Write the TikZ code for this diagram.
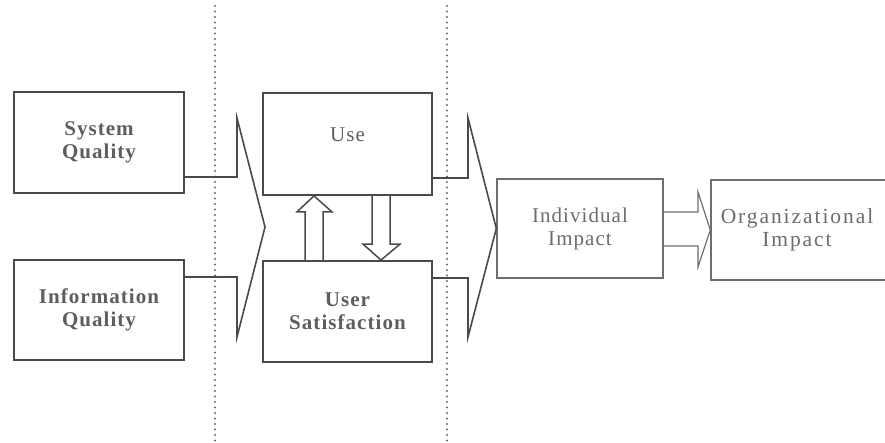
\documentclass[tikz,border=0pt]{standalone}
\usepackage{fontspec}
\setmainfont{Liberation Serif}
\newfontfamily\boxfont[LetterSpace=5]{Liberation Serif}
\newfontfamily\wideboxfont[LetterSpace=9]{Liberation Serif}
\usetikzlibrary{calc}

\definecolor{edgedark}{HTML}{4A4A4A}
\definecolor{edgelight}{HTML}{6E6E6E}
\definecolor{labeldark}{HTML}{5E5E5E}
\definecolor{labellight}{HTML}{6C6C6C}
\definecolor{dotgray}{HTML}{6A6A6A}

\tikzset{
  block/.style={draw=edgedark, line width=1.8pt, rectangle, inner sep=0pt,
    align=center, text=labeldark,
    font=\boxfont\bfseries\fontsize{21}{23}\selectfont},
  lightblock/.style={block, draw=edgelight, line width=1.4pt, text=labellight,
    font=\boxfont\fontsize{21}{23}\selectfont},
  plaintext/.style={inner sep=0pt, text=labeldark,
    font=\boxfont\fontsize{21}{23}\selectfont},
  conn/.style={draw=edgedark, line width=1.6pt, line join=miter},
  lightconn/.style={draw=edgelight, line width=1.2pt, line join=miter},
  hollow/.style={draw=edgedark, line width=1.5pt, line join=miter},
  divider/.style={draw=dotgray, line width=2.2pt, line cap=round,
    dash pattern=on 0pt off 5.5pt}
}

\begin{document}
\begin{tikzpicture}[x=1pt,y=-1pt]
  % page frame
  \path[clip] (0,0) rectangle (885,443);
  \fill[white] (0,0) rectangle (885,443);

  % stage dividers
  \draw[divider] (215,6) -- (215,443);
  \draw[divider] (447,6) -- (447,443);

  % boxes
  \node[block, minimum width=170pt, minimum height=101pt] (sq) at (99,142.5) {System\\Quality};
  \node[block, minimum width=170pt, minimum height=100pt] (iq) at (99,310) {Information\\Quality};
  \node[block, minimum width=169pt, minimum height=102pt] (use) at (347.5,144) {};
  \node[plaintext] (usetxt) at ($(use.center)+(0,-9)$) {Use};
  \node[block, minimum width=169pt, minimum height=101pt] (us) at (347.5,311.5) {User\\Satisfaction};
  \node[lightblock, minimum width=166pt, minimum height=99pt] (ii) at (580,228.5) {Individual\\Impact};
  \node[lightblock, font=\wideboxfont\fontsize{21.5}{23}\selectfont,
        minimum width=180pt, minimum height=100pt] (oi) at (801,230)
        {\hspace*{-8pt}Organizational\\\hspace*{-8pt}Impact};

  % merging arrow: quality -> use / satisfaction
  \coordinate (la1) at (237,177);
  \coordinate (la2) at (237,118);
  \coordinate (ltip) at (265,227);
  \coordinate (la4) at (237,337);
  \coordinate (la5) at (237,277);
  \draw[conn] (sq.east |- la1) -- (la1) -- (la2) -- (ltip) -- (la4) -- (la5) -- (iq.east |- la5);

  % merging arrow: use / satisfaction -> individual impact
  \coordinate (ra1) at (468,178);
  \coordinate (ra2) at (468,118);
  \coordinate (ra4) at (468,337);
  \coordinate (ra5) at (468,278);
  \draw[conn] (use.east |- ra1) -- (ra1) -- (ra2) -- (ii.west) -- (ra4) -- (ra5) -- (us.east |- ra5);

  % arrow: individual impact -> organizational impact
  \coordinate (sa1) at (698,212);
  \coordinate (sa2) at (698,192);
  \coordinate (sa4) at (698,267);
  \coordinate (sa5) at (698,246);
  \draw[lightconn] (ii.east |- sa1) -- (sa1) -- (sa2) -- (oi.west) -- (sa4) -- (sa5) -- (ii.east |- sa5);

  % hollow arrows between use and satisfaction
  \coordinate (upx) at (314,0);
  \coordinate (dnx) at (381,0);
  \coordinate (ub) at (us.north -| upx);
  \coordinate (ut) at (use.south -| upx);
  \draw[hollow] ($(ub)+(-9,0)$) -- ($(ut)+(-9,16)$) -- ($(ut)+(-17,16)$) -- (ut)
    -- ($(ut)+(18,16)$) -- ($(ut)+(9,16)$) -- ($(ub)+(9,0)$);
  \coordinate (dt) at (use.south -| dnx);
  \coordinate (db) at (us.north -| dnx);
  \draw[hollow] ($(dt)+(-9,0)$) -- ($(db)+(-9,-16)$) -- ($(db)+(-18,-16)$) -- (db)
    -- ($(db)+(19,-16)$) -- ($(db)+(9,-16)$) -- ($(dt)+(9,0)$);
\end{tikzpicture}
\end{document}
